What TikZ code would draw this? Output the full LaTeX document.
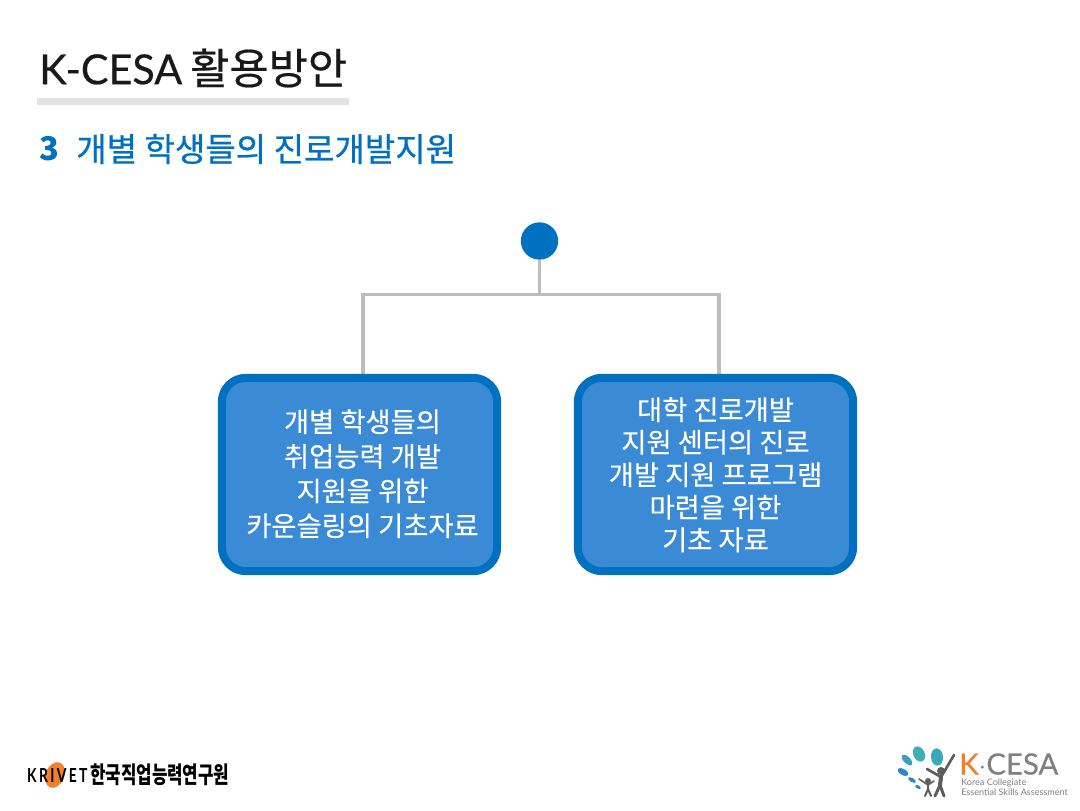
\documentclass[tikz,border=0pt]{standalone}
\usepackage{fontspec}
\usepackage{tikz}
\usetikzlibrary{positioning}
\usetikzlibrary{backgrounds}
\usetikzlibrary{shapes.geometric}
\setmainfont{Noto Sans CJK KR}
\newfontfamily\latin{Lato}
\definecolor{kblue}{HTML}{0070C0}
\definecolor{kfill}{HTML}{3A8AD6}
\definecolor{kline}{HTML}{BDBDBD}
\definecolor{krule}{HTML}{E2E2E2}
\definecolor{korange}{HTML}{F07F2E}
\definecolor{kgrey}{HTML}{808080}
\definecolor{kfigure}{HTML}{5E5E5E}
\definecolor{kteal}{HTML}{3FAFB5}
\definecolor{kdrop}{HTML}{2F86C6}
\newcommand{\cardlines}[3]{\hspace{#1}\vbox{\kern#2\hbox{\begin{tabular}{@{}c@{}}#3\end{tabular}}}}

\begin{document}
\begin{tikzpicture}[x=0.75pt, y=-0.75pt]

    \tikzstyle{title}     = [inner sep=0pt, anchor=west, text=black!90];
    \tikzstyle{subtitle}  = [inner sep=0pt, anchor=west, text=kblue];
    \tikzstyle{hub}       = [circle, fill=kblue, inner sep=0pt, minimum size=28pt];
    \tikzstyle{card}      = [draw=kblue, line width=6pt, fill=kfill, rounded corners=18pt, text=white,
                             minimum width=206.5pt, minimum height=145pt, inner sep=0pt];
    \tikzstyle{wire}      = [draw=kline, line width=2.3pt];
    \tikzstyle{drop}      = [ellipse, inner sep=0pt];
    \tikzstyle{limb}      = [draw=kfigure, line cap=round, line join=round];

    \useasboundingbox (0,0) rectangle (1080,810);
    \begin{scope}[on background layer]
        \fill[white] (0,0) rectangle (1080,810);
    \end{scope}

    %
    % Heading
    %
    \node[title] (head) at (39,68) {\fontsize{31}{31}\selectfont{\latin\addfontfeature{FakeBold=0.4}K-CESA}\hspace{6pt}\fontsize{32}{32}\selectfont\addfontfeature{FakeBold=0.5}활용방안};
    \node[fill=krule, inner sep=0pt, minimum width=233.5pt, minimum height=5pt, anchor=north west] (head-rule) at (37,98) {};
    \node[subtitle] (num) at (39,149) {\fontsize{24.5}{24.5}\selectfont\bfseries 3};
    \node[subtitle] (sub) at (76,149) {\fontsize{24.8}{24.8}\selectfont\addfontfeature{FakeBold=0.6}개별 학생들의 진로개발지원};

    %
    % Cards
    %
    \node[hub] (top) at (539.5,241) {};

    \node[card] (card-a) at (359.5,474.5) {\fontsize{20.5}{26}\selectfont\addfontfeature{FakeBold=0.3}\cardlines{4.5pt}{3.8pt}{
        개별 학생들의\\
        취업능력 개발\\
        지원을 위한\\
        카운슬링의 기초자료
    }};
    \node[card, right=54.5pt of card-a] (card-b) {\fontsize{20.5}{24.4}\selectfont\addfontfeature{FakeBold=0.3}\cardlines{0pt}{6pt}{
        대학 진로개발\\
        지원 센터의 진로\\
        개발 지원 프로그램\\
        마련을 위한\\
        기초 자료
    }};

    \coordinate (bus-a) at (363,294.5);
    \coordinate (bus-b) at (719,294.5);

    \begin{scope}[on background layer]
        \draw[wire] (top.south) -- (top |- bus-a);
        \draw[wire] (card-a.north -| bus-a) -- (bus-a) -- (bus-b) -- (card-b.north -| bus-b);
    \end{scope}

    %
    % KRIVET logo
    %
    \node[drop, fill=korange, minimum width=14pt, minimum height=20pt, rotate=-22] (krivet-mark) at (55,775) {};
    \node[inner sep=0pt, anchor=west, xscale=0.72] (krivet) at (27,775) {\fontsize{14.5}{14.5}\selectfont\latin\bfseries K\,R\,I\,V\,E\,T};
    \node[inner sep=0pt, anchor=west, yscale=1.25, xscale=0.9] (krivet-kr) at (90,775) {\fontsize{14}{14}\selectfont\bfseries 한국직업능력연구원};

    %
    % K-CESA logo
    %
    \node[drop, fill=kteal!80!kdrop, minimum width=9pt, minimum height=13pt, rotate=5]   (drop-1) at (937,757) {};
    \node[drop, fill=kteal, minimum width=8.5pt, minimum height=12pt, rotate=25]         (drop-2) at (919,754) {};
    \node[drop, fill=kteal!60!kdrop, minimum width=5pt, minimum height=10pt, rotate=45]  (drop-3) at (907,760) {};
    \node[drop, fill=kdrop, minimum width=4.5pt, minimum height=9pt, rotate=60]          (drop-4) at (903,772) {};
    \node[drop, fill=kdrop, minimum width=3pt, minimum height=6.5pt, rotate=60]          (drop-5) at (912,780) {};
    \node[drop, fill=kdrop, minimum width=2.5pt, minimum height=4.5pt, rotate=60]        (drop-6) at (918,787) {};

    \node[circle, fill=kfigure, inner sep=0pt, minimum size=6pt] (adult) at (941,771) {};
    \node[circle, fill=kfigure, inner sep=0pt, minimum size=4.5pt] (child) at (928,781) {};
    \coordinate (adult-hip) at (940,785);
    \coordinate (child-hip) at (928,789);
    \draw[limb, line width=2pt]   (954,755) -- (941,777) -- (927,769);
    \draw[limb, line width=3pt]   (941,777) -- (adult-hip);
    \draw[limb, line width=2.2pt] (935,796) -- (adult-hip) -- (944,796);
    \draw[limb, line width=1.2pt] (919,779) -- (928,785) -- (934,781);
    \draw[limb, line width=2pt]   (928,785) -- (child-hip);
    \draw[limb, line width=1.5pt] (925,796) -- (child-hip) -- (931,796);

    \node[inner sep=0pt, anchor=west] (logo-k) at (959,764) {\fontsize{22}{22}\selectfont\latin\addfontfeature{FakeBold=0.3}\textcolor{korange}{K}\textcolor{kgrey}{$\cdot$CESA}};
    \node[inner sep=0pt, anchor=north west, text=kgrey, align=left, font={\fontsize{6.8}{7.5}\selectfont\latin}] (logo-sub) at (961,779) {Korea Collegiate\\Essential Skills Assessment};

\end{tikzpicture}
\end{document}
